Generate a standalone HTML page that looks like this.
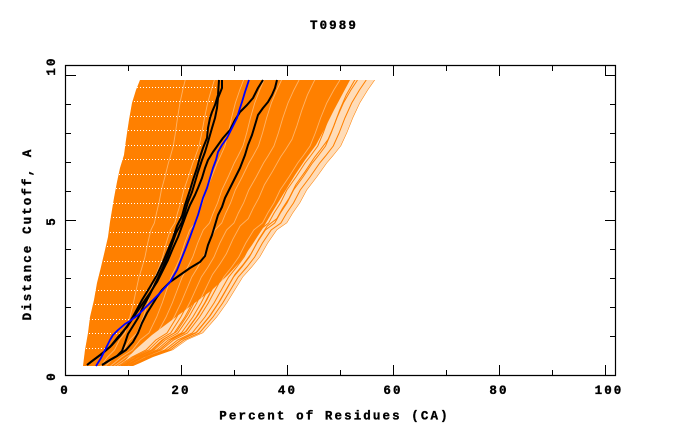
<!DOCTYPE html>
<html>
<head>
<meta charset="utf-8">
<style>
  html, body { margin: 0; padding: 0; background: #ffffff; }
  svg { display: block; }
  text { font-family: "Liberation Mono", "DejaVu Sans Mono", monospace; font-weight: bold; font-size: 12.5px; fill: #000; stroke: #000; stroke-width: 0.35px; letter-spacing: 2.1px; }
</style>
</head>
<body>
<svg width="680" height="440" viewBox="0 0 680 440" xmlns="http://www.w3.org/2000/svg">
  <rect x="0" y="0" width="680" height="440" fill="#ffffff"/>
  <defs>
    <clipPath id="env">
      <polygon points="83,366 85,350 88,333 90,317 94,300 97,283 101,267 105,250 108,237 110,222 112,210 114,198 117,182 120,168 124,155 126,140 129,120 132,103 136,90 140,80 375,80 368,90 360,103 353,118 347,133 341,146 333,156 327,163 317,177 307,190 300,203 293,213 287,223 277,230 268,243 260,257 252,267 243,277 235,290 227,303 217,317 203,333 187,340 173,350 153,357 140,363 133,366"/>
    </clipPath>
    <clipPath id="core">
      <polygon points="83,366 85,350 88,333 90,317 94,300 97,283 101,267 105,250 108,237 110,222 112,210 114,198 117,182 120,168 124,155 126,140 129,120 132,103 136,90 140,80 350,80 342,95 334,110 325,128 316,145 305,160 295,175 284,193 273,211 263,228 252,245 240,262 228,275 212,290 192,305 172,320 152,335 135,350 120,366"/>
    </clipPath>
    <clipPath id="leftreg">
      <polygon points="83,366 85,350 88,333 90,317 94,300 97,283 101,267 105,250 108,237 110,222 112,210 114,198 117,182 120,168 124,155 126,140 129,120 132,103 136,90 140,80 219,80 218,95 215,105 212,112 210,118 208,128 207,138 203,148 200,157 197,168 193,180 190,190 185,205 182,216 177,226 173,238 168,250 163,262 157,275 150,287 142,300 135,313 128,325 120,336 112,345 103,353 95,359 87,365"/>
    </clipPath>
    <path id="rc" fill="none" vector-effect="non-scaling-stroke" d="M375,80 L368,90 L360,103 L353,118 L347,133 L341,146 L333,156 L327,163 L317,177 L307,190 L300,203 L293,213 L287,223 L277,230 L268,243 L260,257 L252,267 L243,277 L235,290 L227,303 L217,317 L203,333 L187,340 L173,350 L153,357 L140,363 L133,366"/>
  </defs>

  <!-- light fringe fill -->
  <polygon fill="#ffdcb8" points="83,366 85,350 88,333 90,317 94,300 97,283 101,267 105,250 108,237 110,222 112,210 114,198 117,182 120,168 124,155 126,140 129,120 132,103 136,90 140,80 375,80 368,90 360,103 353,118 347,133 341,146 333,156 327,163 317,177 307,190 300,203 293,213 287,223 277,230 268,243 260,257 252,267 243,277 235,290 227,303 217,317 203,333 187,340 173,350 153,357 140,363 133,366"/>

  <!-- fringe lines -->
  <g clip-path="url(#env)" stroke="#ff8000" stroke-width="1" fill="none">
    <use href="#rc" transform="matrix(0.70 0 0 1 24.9 0)"/>
    <use href="#rc" transform="matrix(0.73 0 0 1 22.41 0)"/>
    <use href="#rc" transform="matrix(0.76 0 0 1 19.92 0)"/>
    <use href="#rc" transform="matrix(0.79 0 0 1 17.43 0)"/>
    <use href="#rc" transform="matrix(0.82 0 0 1 14.94 0)"/>
    <use href="#rc" transform="matrix(0.845 0 0 1 12.865 0)"/>
    <use href="#rc" transform="matrix(0.87 0 0 1 10.79 0)"/>
    <use href="#rc" transform="matrix(0.91 0 0 1 7.47 0)"/>
    <use href="#rc" transform="matrix(0.94 0 0 1 4.98 0)"/>
    <use href="#rc" transform="matrix(0.97 0 0 1 2.49 0)"/>
    <use href="#rc" transform="matrix(1 0 0 1 0 0)"/>
    <use href="#rc" transform="matrix(0.78 0 0 1.04 18.26 -14.64)"/>
    <use href="#rc" transform="matrix(0.86 0 0 1.05 11.62 -18.3)"/>
    <use href="#rc" transform="matrix(0.95 0 0 1.03 4.15 -10.98)"/>
  </g>

  <!-- dense core -->
  <polygon fill="#ff8000" points="83,366 85,350 88,333 90,317 94,300 97,283 101,267 105,250 108,237 110,222 112,210 114,198 117,182 120,168 124,155 126,140 129,120 132,103 136,90 140,80 350,80 342,95 334,110 325,128 316,145 305,160 295,175 284,193 273,211 263,228 252,245 240,262 228,275 212,290 192,305 172,320 152,335 135,350 120,366"/>

  <!-- faint white streaks in core -->
  <g clip-path="url(#core)" stroke="#ffffff" stroke-opacity="0.4" stroke-width="0.9" fill="none">
    <use href="#rc" transform="matrix(0.35 0 0 1 53.95 0)"/>
    <use href="#rc" transform="matrix(0.45 0 0 1 45.65 0)"/>
    <use href="#rc" transform="matrix(0.55 0 0 1 37.35 0)"/>
    <use href="#rc" transform="matrix(0.62 0 0 1 31.54 0)"/>
    <use href="#rc" transform="matrix(0.68 0 0 1 26.56 0)"/>
    <use href="#rc" transform="matrix(0.74 0 0 1 21.58 0)"/>
    <use href="#rc" transform="matrix(0.81 0 0 1.03 15.77 -10.98)"/>
    <use href="#rc" transform="matrix(0.88 0 0 1 9.96 0)"/>
  </g>

  <!-- dotted white rows -->
  <g clip-path="url(#leftreg)" stroke="#ffffff" stroke-width="1" stroke-dasharray="1 2" fill="none">
    <path d="M80,348.5H300 M80,333.5H300 M80,319.5H300 M80,304.5H300 M80,290.5H300 M80,275.5H300 M80,261.5H300 M80,246.5H300 M80,232.5H300 M80,217.5H300 M80,203.5H300 M80,188.5H300 M80,174.5H300 M80,159.5H300 M80,145.5H300 M80,130.5H300 M80,116.5H300 M80,101.5H300 M80,87.5H300"/>
  </g>

  <!-- black model curves -->
  <g stroke="#000000" stroke-width="2" fill="none" stroke-linejoin="round">
    <polyline points="87,365 95,359 103,353 112,345 120,336 128,325 135,313 142,300 150,287 157,275 163,262 168,250 173,238 177,226 182,216 185,205 190,190 193,180 197,168 200,157 203,148 207,138 208,128 210,118 212,112 215,105 218,95 219,80"/>
    <polyline points="102,365 110,360 117,356 122,351 125,343 128,334 133,326 138,318 143,307 148,298 153,288 158,278 163,267 168,255 172,244 176,233 182,222 185,212 188,202 192,192 195,182 198,172 202,160 205,152 208,142 212,128 215,118 217,108 218,98 222,88 222,80"/>
    <polyline points="263,80 258,88 253,98 247,105 240,112 235,120 230,130 223,138 218,145 213,152 208,160 205,168 202,178 198,188 195,195 190,205 186,215 182,226 178,237 173,248 168,260 163,270 157,282 150,293 143,303 135,315 127,327 118,337 110,347 100,355 92,361 87,365"/>
    <polyline points="277,80 275,88 272,95 268,102 263,108 258,115 255,125 252,135 248,145 245,155 240,168 235,178 230,188 225,198 222,207 218,215 215,225 212,235 208,245 205,256 200,262 190,268 180,275 170,282 162,290 157,297 152,305 147,313 142,323 138,333 133,342 126,350 117,356 110,360 102,365"/>
  </g>

  <!-- blue curve -->
  <polyline fill="none" stroke="#0000ff" stroke-width="1.8" stroke-linejoin="round" points="96,366 101,358 105,350 110,340 113,335 118,330 125,324 130,321 138,315 147,306 160,293 170,282 177,270 181,260 185,250 190,237 194,226 198,215 203,198 207,188 210,178 213,168 216,160 218,152 222,145 227,138 232,128 237,118 240,108 242,102 245,92 249,80"/>

  <!-- axes box -->
  <path d="M65.5,65.5 H615.5 V375.5 H65.5 Z" fill="none" stroke="#000" stroke-width="1.2"/>

  <!-- ticks -->
  <g stroke="#000" stroke-width="1" fill="none" shape-rendering="crispEdges">
    <path d="M65,336.5H71 M65,307.5H71 M65,278.5H71 M65,249.5H71 M65,220.5H76 M65,191.5H71 M65,162.5H71 M65,133.5H71 M65,104.5H71 M65,75.5H76"/>
    <path d="M616,336.5H610 M616,307.5H610 M616,278.5H610 M616,249.5H610 M616,220.5H605 M616,191.5H610 M616,162.5H610 M616,133.5H610 M616,104.5H610 M616,75.5H605"/>
    <path d="M128.5,376V370 M181.5,376V365 M234.5,376V370 M287.5,376V365 M340.5,376V370 M393.5,376V365 M446.5,376V370 M499.5,376V365 M552.5,376V370 M605.5,376V365"/>
    <path d="M128.5,65V71 M181.5,65V76 M234.5,65V71 M287.5,65V76 M340.5,65V71 M393.5,65V76 M446.5,65V71 M499.5,65V76 M552.5,65V71 M605.5,65V76"/>
  </g>

  <!-- title -->
  <text x="334" y="29" text-anchor="middle">T0989</text>

  <!-- x tick labels -->
  <text x="65" y="394" text-anchor="middle">0</text>
  <text x="181" y="394" text-anchor="middle">20</text>
  <text x="287.5" y="394" text-anchor="middle">40</text>
  <text x="393" y="394" text-anchor="middle">60</text>
  <text x="499" y="394" text-anchor="middle">80</text>
  <text x="609" y="394" text-anchor="middle">100</text>

  <!-- x label -->
  <text x="334.5" y="419.5" text-anchor="middle">Percent of Residues (CA)</text>

  <!-- y tick labels (rotated) -->
  <text transform="translate(55,376) rotate(-90)" text-anchor="middle">0</text>
  <text transform="translate(55,221) rotate(-90)" text-anchor="middle">5</text>
  <text transform="translate(55,66) rotate(-90)" text-anchor="middle">10</text>

  <!-- y label -->
  <text transform="translate(31,234) rotate(-90)" text-anchor="middle">Distance Cutoff, A</text>
</svg>
</body>
</html>
